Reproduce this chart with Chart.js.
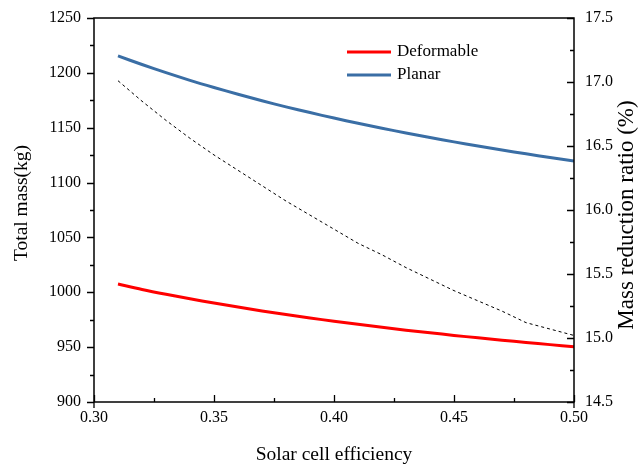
<!DOCTYPE html>
<html>
<head>
<meta charset="utf-8">
<script src="https://cdn.jsdelivr.net/npm/chart.js@4.4.0/dist/chart.umd.min.js"></script>
<style>
  html, body { margin: 0; padding: 0; background: #fff; }
  canvas { display: block; }
</style>
</head>
<body>
<canvas id="mass-chart" width="639" height="464"></canvas>
<script>
// solar cell efficiency
const efficiency = [0.31, 0.32, 0.33, 0.34, 0.35, 0.36, 0.37, 0.38, 0.39, 0.40,
  0.41, 0.42, 0.43, 0.44, 0.45, 0.46, 0.47, 0.48, 0.49, 0.50];
// total mass (kg)
const deformableMass = [1007.5, 1002.6, 998.2, 994.1, 990.2, 986.5, 983.0, 979.7, 976.6, 973.6,
  970.8, 968.1, 965.5, 963.1, 960.7, 958.5, 956.3, 954.3, 952.3, 950.4];
const planarMass = [1215.4, 1207.6, 1200.2, 1193.2, 1186.7, 1180.5, 1174.6, 1169.0, 1163.8, 1158.8,
  1154.0, 1149.5, 1145.2, 1141.0, 1137.1, 1133.3, 1129.7, 1126.2, 1122.9, 1119.7];
// mass reduction ratio (%)
const reductionRatio = [17.01, 16.85, 16.70, 16.56, 16.43, 16.31, 16.19, 16.07, 15.96, 15.85,
  15.74, 15.65, 15.55, 15.46, 15.37, 15.29, 15.21, 15.12, 15.07, 15.02];

const xTicks = [0.30, 0.35, 0.40, 0.45, 0.50];
const massTicks = [900, 950, 1000, 1050, 1100, 1150, 1200, 1250];
const ratioTicks = [14.5, 15.0, 15.5, 16.0, 16.5, 17.0, 17.5];

const serif = 'Liberation Serif';

const toPoints = (ys) => efficiency.map((x, i) => ({ x: x, y: ys[i] }));

// no label overhang padding, so the plot box sits where the layout says
const noOverhang = (scale) => {
  scale.paddingTop = 0;
  scale.paddingBottom = 0;
};

// draws tick marks (major + minor), a framed plot, the axis titles and the legend
const framePlugin = {
  id: 'frame',
  afterDraw(chart) {
    const ctx = chart.ctx;
    const area = chart.chartArea;
    const sx = chart.scales.x, sy = chart.scales.y, sy1 = chart.scales.y1;
    ctx.save();
    ctx.strokeStyle = '#000';
    ctx.lineWidth = 1.5;
    ctx.strokeRect(area.left, area.top, area.right - area.left, area.bottom - area.top);

    ctx.lineWidth = 1.3;
    ctx.beginPath();
    // left axis, outward
    for (let v = 900; v <= 1250; v += 25) {
      const y = Math.round(sy.getPixelForValue(v)) + 0.5;
      const len = (v % 50 === 0) ? 7 : 4;
      ctx.moveTo(area.left, y);
      ctx.lineTo(area.left - len, y);
    }
    // right axis, inward
    for (let k = 0; k <= 12; k++) {
      const v = 14.5 + k * 0.25;
      const y = Math.round(sy1.getPixelForValue(v)) + 0.5;
      const len = (k % 2 === 0) ? 7 : 4;
      ctx.moveTo(area.right, y);
      ctx.lineTo(area.right - len, y);
    }
    // bottom axis, inward
    for (let k = 0; k <= 8; k++) {
      const v = 0.30 + k * 0.025;
      const x = Math.round(sx.getPixelForValue(v)) + 0.5;
      const len = (k % 2 === 0) ? 7 : 4;
      ctx.moveTo(x, area.bottom);
      ctx.lineTo(x, area.bottom - len);
    }
    // corner extensions below the frame
    ctx.moveTo(area.left, area.bottom);
    ctx.lineTo(area.left, area.bottom + 6);
    ctx.moveTo(area.right, area.bottom);
    ctx.lineTo(area.right, area.bottom + 6);
    ctx.stroke();

    // axis titles
    ctx.fillStyle = '#000';
    ctx.font = '19.5px "' + serif + '"';
    ctx.textAlign = 'center';
    ctx.textBaseline = 'middle';
    ctx.fillText('Solar cell efficiency', (area.left + area.right) / 2, 455);

    ctx.save();
    ctx.translate(22, 203);
    ctx.rotate(-Math.PI / 2);
    ctx.fillText('Total mass(kg)', 0, 0);
    ctx.restore();

    ctx.save();
    ctx.font = '23px "' + serif + '"';
    ctx.translate(627, 215);
    ctx.rotate(-Math.PI / 2);
    ctx.fillText('Mass reduction ratio (%)', 0, 0);
    ctx.restore();

    // legend inside the plot
    ctx.font = '17px "' + serif + '"';
    const items = chart.data.datasets.filter((d) => d.showInLegend);
    items.forEach((d, i) => {
      const y = 52 + i * 23;
      ctx.strokeStyle = d.borderColor;
      ctx.lineWidth = 3;
      ctx.beginPath();
      ctx.moveTo(347, y);
      ctx.lineTo(391, y);
      ctx.stroke();
      ctx.textAlign = 'left';
      ctx.fillText(d.label, 397, y);
    });
    ctx.restore();
  }
};

new Chart(document.getElementById('mass-chart').getContext('2d'), {
  type: 'line',
  data: {
    datasets: [
      {
        label: 'Deformable',
        data: toPoints(deformableMass),
        borderColor: '#ff0000',
        borderWidth: 3,
        pointRadius: 0,
        tension: 0.3,
        yAxisID: 'y',
        showInLegend: true,
      },
      {
        label: 'Planar',
        data: toPoints(planarMass),
        borderColor: '#3a6ea5',
        borderWidth: 3,
        pointRadius: 0,
        tension: 0.3,
        yAxisID: 'y',
        showInLegend: true,
      },
      {
        label: 'Mass reduction ratio',
        data: toPoints(reductionRatio),
        borderColor: '#000000',
        borderWidth: 1,
        borderDash: [3, 3],
        pointRadius: 0,
        tension: 0,
        yAxisID: 'y1',
        showInLegend: false,
      },
    ],
  },
  options: {
    responsive: false,
    animation: false,
    layout: { padding: { top: 18, left: 0, right: 0, bottom: 0 } },
    plugins: {
      legend: { display: false },
      tooltip: { enabled: false },
    },
    scales: {
      x: {
        type: 'linear',
        min: 0.30,
        max: 0.50,
        afterBuildTicks: (scale) => { scale.ticks = xTicks.map((v) => ({ value: v })); },
        afterFit: (scale) => { scale.height = 62; },
        ticks: {
          callback: (v) => v.toFixed(2),
          color: '#000',
          font: { family: serif, size: 16 },
          padding: 6,
          maxRotation: 0,
        },
        grid: { display: false, drawTicks: false },
        border: { display: false },
      },
      y: {
        position: 'left',
        min: 900,
        max: 1250,
        afterBuildTicks: (scale) => { scale.ticks = massTicks.map((v) => ({ value: v })); },
        afterFit: (scale) => { scale.width = 94; noOverhang(scale); },
        ticks: {
          callback: (v) => String(v),
          color: '#000',
          font: { family: serif, size: 16 },
          padding: 13,
        },
        grid: { display: false, drawTicks: false },
        border: { display: false },
      },
      y1: {
        position: 'right',
        min: 14.5,
        max: 17.5,
        afterBuildTicks: (scale) => { scale.ticks = ratioTicks.map((v) => ({ value: v })); },
        afterFit: (scale) => { scale.width = 65; noOverhang(scale); },
        ticks: {
          callback: (v) => v.toFixed(1),
          color: '#000',
          font: { family: serif, size: 16 },
          padding: 11,
        },
        grid: { display: false, drawTicks: false },
        border: { display: false },
      },
    },
  },
  plugins: [framePlugin],
});
</script>
</body>
</html>
